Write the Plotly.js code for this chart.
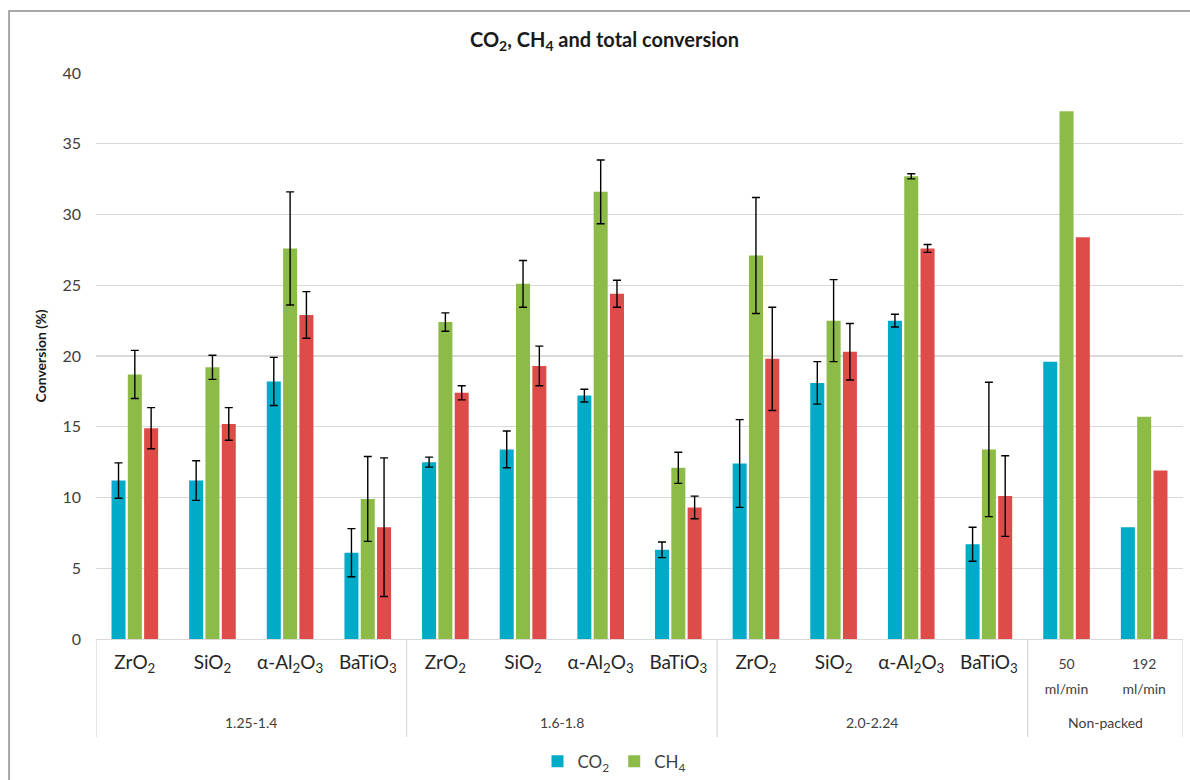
<!DOCTYPE html>
<html>
<head>
<meta charset="utf-8">
<script src="https://cdn.plot.ly/plotly-3.0.1.min.js"></script>
<style>html,body{margin:0;padding:0;background:#fff;}#chart{width:1190px;height:780px;}</style>
</head>
<body>
<div id="chart"></div>
<script>
// ---- data ----
const materials = ['ZrO<sub>2</sub>', 'SiO<sub>2</sub>', 'α-Al<sub>2</sub>O<sub>3</sub>', 'BaTiO<sub>3</sub>',
                   'ZrO<sub>2</sub>', 'SiO<sub>2</sub>', 'α-Al<sub>2</sub>O<sub>3</sub>', 'BaTiO<sub>3</sub>',
                   'ZrO<sub>2</sub>', 'SiO<sub>2</sub>', 'α-Al<sub>2</sub>O<sub>3</sub>', 'BaTiO<sub>3</sub>',
                   '50<br>ml/min', '192<br>ml/min'];
const groupLabels = ['1.25-1.4', '1.6-1.8', '2.0-2.24', 'Non-packed'];
const groupSizes = [4, 4, 4, 2];

// NaN = no error bar (non-packed runs)
const co2    = [11.2, 11.2, 18.2, 6.1, 12.5, 13.4, 17.2, 6.3, 12.4, 18.1, 22.5, 6.7, 19.6, 7.9];
const co2Err = [1.25, 1.4, 1.7, 1.7, 0.35, 1.3, 0.45, 0.55, 3.1, 1.5, 0.45, 1.2, NaN, NaN];
const ch4    = [18.7, 19.2, 27.6, 9.9, 22.4, 25.1, 31.6, 12.1, 27.1, 22.5, 32.7, 13.4, 37.3, 15.7];
const ch4Err = [1.7, 0.85, 4.0, 3.0, 0.65, 1.65, 2.25, 1.1, 4.1, 2.9, 0.18, 4.75, NaN, NaN];
const total    = [14.9, 15.2, 22.9, 7.9, 17.4, 19.3, 24.4, 9.3, 19.8, 20.3, 27.6, 10.1, 28.4, 11.9];
const totalErr = [1.45, 1.15, 1.65, 4.9, 0.5, 1.4, 0.95, 0.8, 3.65, 2.0, 0.28, 2.85, NaN, NaN];

// ---- build ----
const idx = materials.map((_, i) => i);
const tickText = materials.map(m => m.indexOf('<br>') >= 0
  ? '<span style="font-size:14px;color:#404040">' + m + '</span>' : m);

function errBar(arr) {
  return {type: 'data', array: arr, visible: true, color: '#000', thickness: 1.4, width: 4};
}
const traces = [
  {type: 'bar', name: 'CO<sub>2</sub>', x: idx, y: co2, error_y: errBar(co2Err),
   marker: {color: '#00ABC7'}},
  {type: 'bar', name: 'CH<sub>4</sub>', x: idx, y: ch4, error_y: errBar(ch4Err),
   marker: {color: '#8CBB48'}},
  {type: 'bar', name: 'Total', x: idx, y: total, error_y: errBar(totalErr),
   marker: {color: '#DE4C4A'}, showlegend: false}
];

// dividers & group labels
const shapes = [];
const annotations = [];
let start = 0;
const divY = -0.173;
shapes.push({type: 'line', xref: 'x', yref: 'paper', x0: -0.5, x1: -0.5, y0: 0, y1: divY,
             line: {color: '#d9d9d9', width: 1.3}});
groupSizes.forEach((n, g) => {
  const end = start + n;
  shapes.push({type: 'line', xref: 'x', yref: 'paper', x0: end - 0.5, x1: end - 0.5, y0: 0, y1: divY,
               line: {color: '#d9d9d9', width: 1.3}});
  annotations.push({xref: 'x', yref: 'paper', x: (start + end - 1) / 2, y: -0.147,
                    text: groupLabels[g], showarrow: false, yanchor: 'middle',
                    font: {family: 'Lato, sans-serif', size: 14, color: '#404040'}});
  start = end;
});
// outer chart border
shapes.push({type: 'rect', xref: 'paper', yref: 'paper', x0: -0.080, x1: 1.02, y0: -0.27, y1: 1.1095,
             line: {color: '#8c8c8c', width: 1.5}, fillcolor: 'rgba(0,0,0,0)', layer: 'below'});

const layout = {
  width: 1190, height: 780,
  margin: {l: 96, r: 7, t: 73, b: 141, autoexpand: false},
  paper_bgcolor: '#fff', plot_bgcolor: '#fff',
  font: {family: 'Lato, sans-serif', color: '#404040'},
  title: {text: 'CO<sub>2</sub>, CH<sub>4</sub> and total conversion', x: 0.508, xanchor: 'center',
          y: 0.949, yanchor: 'middle',
          font: {family: 'Lato, sans-serif', size: 20, color: '#1a1a1a', weight: 'bold'}},
  barmode: 'group', bargap: 0.37, bargroupgap: 0.14,
  xaxis: {range: [-0.5, 13.5], tickmode: 'array', tickvals: idx, ticktext: tickText,
          showgrid: false, zeroline: false, showline: true, linecolor: '#d9d9d9', linewidth: 1.3,
          ticks: '', ticklabelstandoff: 6, fixedrange: true, automargin: false,
          tickfont: {family: 'Lato, sans-serif', size: 19, color: '#262626'}},
  yaxis: {range: [0, 40], dtick: 5, showgrid: true, gridcolor: '#d9d9d9', gridwidth: 1.3,
          zeroline: false, showline: false, ticks: '', ticklabelstandoff: 14, automargin: false,
          tickfont: {family: 'Lato, sans-serif', size: 16, color: '#404040'},
          title: {text: '<b>Conversion (%)</b>', standoff: 12,
                  font: {family: 'Lato, sans-serif', size: 14, color: '#1a1a1a'}}},
  showlegend: true,
  legend: {orientation: 'h', x: 0.477, xanchor: 'center', y: -0.217, yanchor: 'middle',
           font: {family: 'Lato, sans-serif', size: 17, color: '#404040'},
           itemwidth: 30, tracegroupgap: 0, bgcolor: 'rgba(0,0,0,0)'},
  shapes: shapes,
  annotations: annotations
};

Plotly.newPlot('chart', traces, layout, {displayModeBar: false, staticPlot: true});
</script>
</body>
</html>
